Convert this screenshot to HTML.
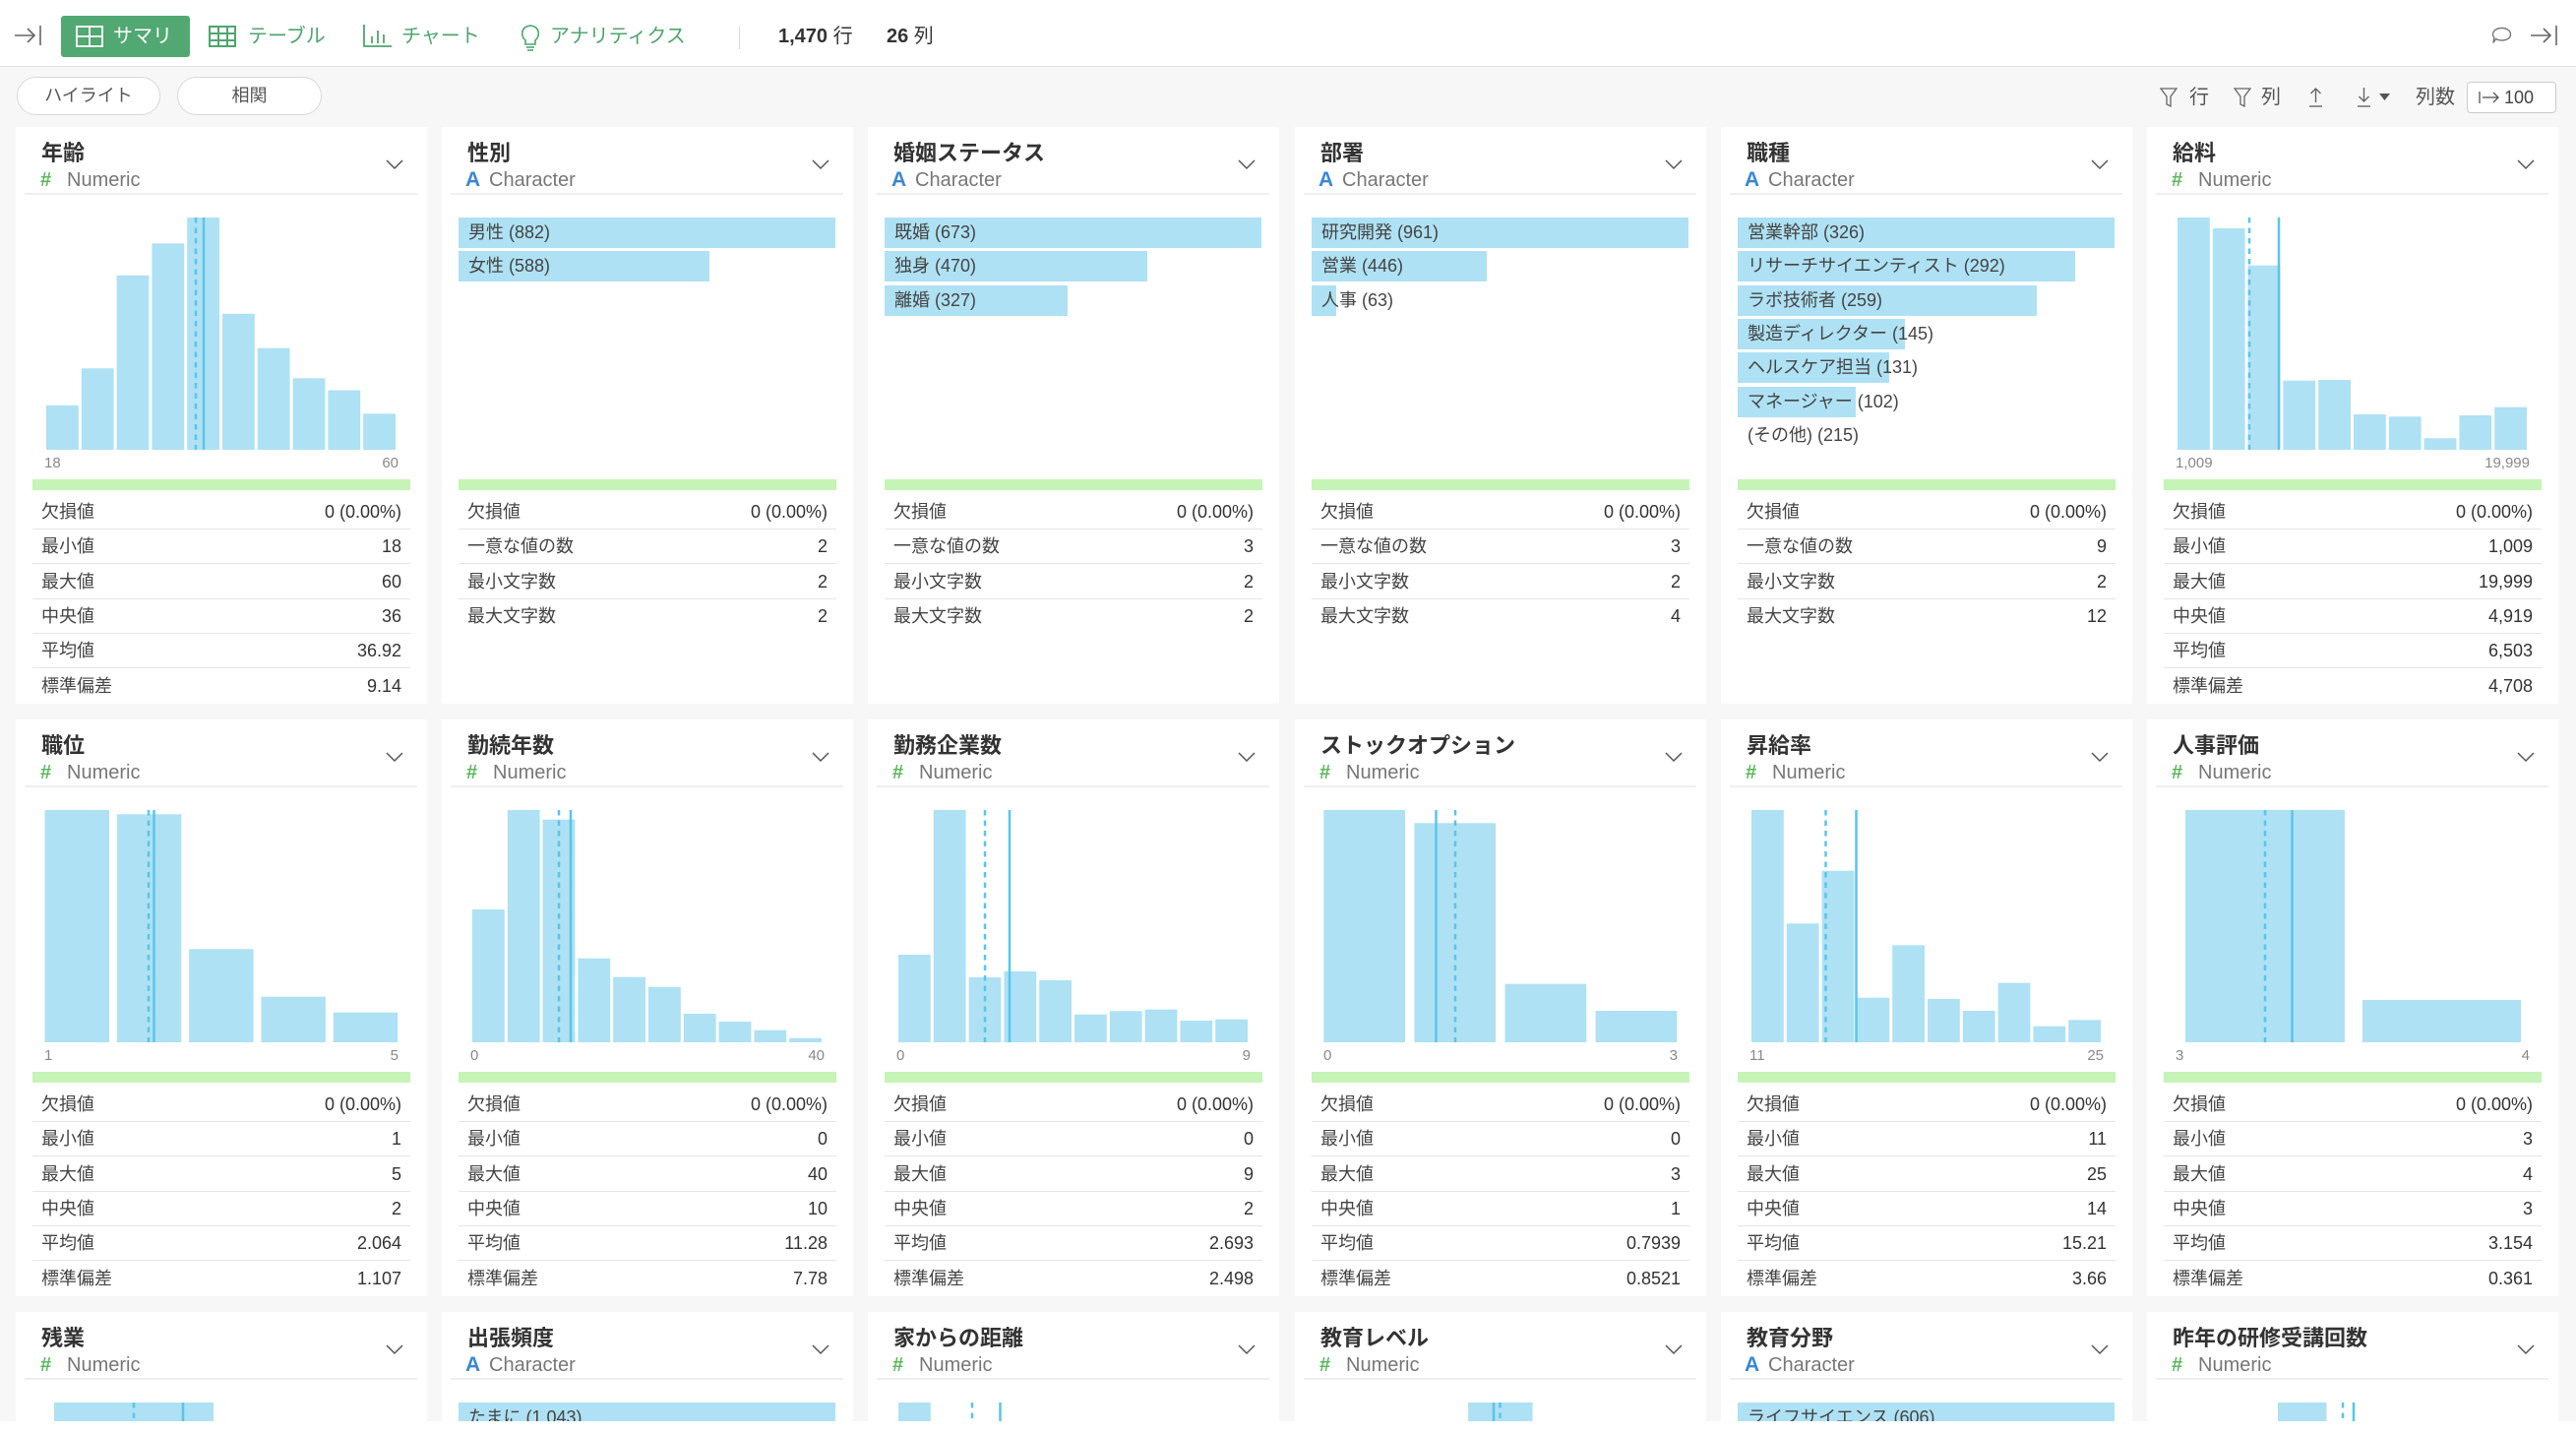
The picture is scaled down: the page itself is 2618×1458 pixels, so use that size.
<!DOCTYPE html>
<html><head><meta charset="utf-8"><style>
*{margin:0;padding:0;box-sizing:border-box}
html,body{width:2618px;height:1458px;overflow:hidden}
body{background:#f7f7f7;font-family:"Liberation Sans","Noto Sans CJK JP",sans-serif;position:relative;color:#333}
.abs{position:absolute}
#top{position:absolute;left:0;top:0;width:2618px;height:68px;background:#fff;border-bottom:1px solid #e2e2e2}
.tab{position:absolute;top:16px;height:42px;line-height:42px;font-size:20px;color:#4fa56d;white-space:nowrap}
.btn{position:absolute;top:78px;height:39px;border:1px solid #d9d9d9;border-radius:20px;background:#fff;text-align:center;line-height:37px;font-size:18px;color:#555}
.tool{position:absolute;top:86px;height:26px;line-height:26px;font-size:20px;color:#555;white-space:nowrap}
.card{position:absolute;width:418px;height:586px;background:#fff;overflow:hidden}
.t{position:absolute;left:26px;top:12px;height:30px;line-height:30px;font-size:22px;font-weight:bold;color:#333;white-space:nowrap}
.hash{position:absolute;left:25px;top:42px;height:24px;line-height:24px;font-size:20px;font-weight:bold;color:#5cb85c}
.ca{position:absolute;left:24px;top:42px;height:24px;line-height:24px;font-size:21px;font-weight:bold;color:#3a87d4}
.ty{position:absolute;top:42px;height:24px;line-height:24px;font-size:20px;color:#777;white-space:nowrap}
.chev{position:absolute;left:376px;top:33px}
.sep{position:absolute;left:9px;top:67px;width:399px;height:2px;background:#efefef}
.h{position:absolute;left:0;top:92px}
.al,.ar{position:absolute;top:333px;height:18px;line-height:18px;font-size:15px;color:#888}
.al{left:29px}.ar{right:29px}
.g{position:absolute;left:17px;top:358px;width:384px;height:11px;background:#c5f4b6}
.r{position:absolute;left:17px;width:384px;height:35px;border-bottom:1px solid #e6e6e6;font-size:18px;line-height:34px;color:#444}
.r.nb{border-bottom:none}
.r span{position:absolute;left:9px;white-space:nowrap}
.r b{position:absolute;right:9px;font-weight:normal;color:#333;white-space:nowrap}
.cb{position:absolute;left:17px;height:31px;background:#aee1f3}
.cl{position:absolute;left:27px;height:31px;line-height:31px;font-size:18px;color:#444;white-space:nowrap}
</style></head><body>

<div id="top"></div>
<!-- top bar -->
<svg class="abs" style="left:14px;top:26px" width="30" height="20"><g stroke="#666" stroke-width="1.6" fill="none"><line x1="1" y1="10" x2="21" y2="10"/><polyline points="14,3 21,10 14,17"/><line x1="27" y1="0" x2="27" y2="20"/></g></svg>
<div class="abs" style="left:62px;top:16px;width:131px;height:42px;background:#52a872;border-radius:3px"></div>
<svg class="abs" style="left:77px;top:26px" width="28" height="22"><g stroke="#fff" stroke-width="1.8" fill="none"><rect x="1" y="1" width="26" height="20"/><line x1="14" y1="1" x2="14" y2="21"/><line x1="1" y1="11" x2="27" y2="11"/></g></svg>
<div class="tab" style="left:115px;color:#fff">サマリ</div>
<svg class="abs" style="left:212px;top:26px" width="28" height="22"><g stroke="#4fa56d" stroke-width="2" fill="none"><rect x="1" y="1" width="26" height="20"/><line x1="10" y1="1" x2="10" y2="21"/><line x1="19" y1="1" x2="19" y2="21"/><line x1="1" y1="8" x2="27" y2="8"/><line x1="1" y1="15" x2="27" y2="15"/></g></svg>
<div class="tab" style="left:252px">テーブル</div>
<svg class="abs" style="left:369px;top:25px" width="29" height="23"><g stroke="#4fa56d" stroke-width="1.8" fill="none"><polyline points="1,0 1,22 29,22"/><line x1="9" y1="12" x2="9" y2="19"/><line x1="15" y1="6" x2="15" y2="19"/><line x1="21" y1="10" x2="21" y2="19"/></g></svg>
<div class="tab" style="left:408px">チャート</div>
<svg class="abs" style="left:528px;top:24px" width="22" height="28"><g stroke="#4fa56d" stroke-width="1.6" fill="none"><path d="M6,17 C1,13 1,3 11,2 C21,3 21,13 16,17 L16,21 L6,21 Z"/><line x1="7" y1="24" x2="15" y2="24"/><line x1="8" y1="27" x2="14" y2="27"/></g></svg>
<div class="tab" style="left:559px">アナリティクス</div>
<div class="abs" style="left:751px;top:27px;width:1px;height:23px;background:#d8d8d8"></div>
<div class="tab" style="left:791px;color:#333"><b>1,470</b> 行</div>
<div class="tab" style="left:901px;color:#333"><b>26</b> 列</div>
<svg class="abs" style="left:2532px;top:27px" width="21" height="18"><path d="M10.5,1.5 C16,1.5 19.5,4.5 19.5,8 C19.5,11.5 16,14 10.5,14 C8,14 6,13.5 4.5,12.5 L2,16.5 L2.8,11 C1.8,10 1.5,9 1.5,8 C1.5,4.5 5,1.5 10.5,1.5 Z" fill="none" stroke="#777" stroke-width="1.4"/></svg>
<svg class="abs" style="left:2571px;top:26px" width="30" height="20"><g stroke="#666" stroke-width="1.6" fill="none"><line x1="1" y1="10" x2="21" y2="10"/><polyline points="14,3 21,10 14,17"/><line x1="27" y1="0" x2="27" y2="20"/></g></svg>

<!-- toolbar -->
<div class="btn" style="left:17px;width:146px">ハイライト</div>
<div class="btn" style="left:180px;width:147px">相関</div>
<svg class="abs" style="left:2195px;top:89px" width="18" height="21"><polygon points="1,1 17,1 11,9 11,19 7,17 7,9" fill="none" stroke="#666" stroke-width="1.3"/></svg>
<div class="tool" style="left:2225px">行</div>
<svg class="abs" style="left:2270px;top:89px" width="18" height="21"><polygon points="1,1 17,1 11,9 11,19 7,17 7,9" fill="none" stroke="#666" stroke-width="1.3"/></svg>
<div class="tool" style="left:2298px">列</div>
<svg class="abs" style="left:2345px;top:88px" width="17" height="22"><g stroke="#666" stroke-width="1.4" fill="none"><line x1="8.5" y1="2" x2="8.5" y2="16"/><polyline points="3.5,7 8.5,2 13.5,7"/><line x1="2" y1="20" x2="15" y2="20"/></g></svg>
<svg class="abs" style="left:2394px;top:88px" width="17" height="22"><g stroke="#666" stroke-width="1.4" fill="none"><line x1="8.5" y1="1" x2="8.5" y2="15"/><polyline points="3.5,10 8.5,15 13.5,10"/><line x1="2" y1="20" x2="15" y2="20"/></g></svg>
<svg class="abs" style="left:2418px;top:95px" width="12" height="8"><polygon points="0,0 11,0 5.5,7" fill="#555"/></svg>
<div class="tool" style="left:2455px">列数</div>
<div class="abs" style="left:2507px;top:83px;width:91px;height:32px;border:1px solid #ccc;border-radius:4px;background:#fff"></div>
<svg class="abs" style="left:2519px;top:92px" width="22" height="14"><g stroke="#555" stroke-width="1.3" fill="none"><line x1="1" y1="1" x2="1" y2="13"/><line x1="4" y1="7" x2="20" y2="7"/><polyline points="15,2 20,7 15,12"/></g></svg>
<div class="tool" style="left:2545px;top:86px;font-size:18px;color:#444">100</div>

<!-- ROW 1 -->
<div class="card" style="left:16px;top:129px">
 <div class="t">年齢</div><div class="hash">#</div><div class="ty" style="left:52px">Numeric</div>
 <svg class="chev" width="18" height="11"><polyline points="1,1 9,9 17,1" fill="none" stroke="#555" stroke-width="1.5"/></svg>
 <div class="sep"></div>
 <svg class="h" width="418" height="236"><g fill="#aee1f3">
  <rect x="31" y="190.8" width="32.8" height="45.2"/><rect x="66.8" y="153.3" width="32.8" height="82.7"/><rect x="102.6" y="58.8" width="32.8" height="177.2"/><rect x="138.4" y="26.3" width="32.8" height="209.7"/><rect x="174.2" y="0" width="32.8" height="236"/><rect x="210" y="97.8" width="32.8" height="138.2"/><rect x="245.8" y="132.7" width="32.8" height="103.3"/><rect x="281.6" y="163.3" width="32.8" height="72.7"/><rect x="317.4" y="175.5" width="32.8" height="60.5"/><rect x="353.2" y="199.3" width="32.8" height="36.7"/></g>
  <line x1="183" y1="0" x2="183" y2="236" stroke="#5bc4ea" stroke-width="2.5" stroke-dasharray="5.5 5"/><line x1="191" y1="0" x2="191" y2="236" stroke="#5bc4ea" stroke-width="2.5"/></svg>
 <div class="al">18</div><div class="ar">60</div><div class="g"></div>
 <div class="r" style="top:374px"><span>欠損値</span><b>0 (0.00%)</b></div>
 <div class="r" style="top:409.3px"><span>最小値</span><b>18</b></div>
 <div class="r" style="top:444.6px"><span>最大値</span><b>60</b></div>
 <div class="r" style="top:479.9px"><span>中央値</span><b>36</b></div>
 <div class="r" style="top:515.2px"><span>平均値</span><b>36.92</b></div>
 <div class="r nb" style="top:550.5px"><span>標準偏差</span><b>9.14</b></div>
</div>

<div class="card" style="left:449px;top:129px">
 <div class="t">性別</div><div class="ca">A</div><div class="ty" style="left:48px">Character</div>
 <svg class="chev" width="18" height="11"><polyline points="1,1 9,9 17,1" fill="none" stroke="#555" stroke-width="1.5"/></svg>
 <div class="sep"></div>
 <div class="cb" style="top:92px;width:383px"></div><div class="cl" style="top:92px">男性 (882)</div>
 <div class="cb" style="top:126.3px;width:255px"></div><div class="cl" style="top:126.3px">女性 (588)</div>
 <div class="g"></div>
 <div class="r" style="top:374px"><span>欠損値</span><b>0 (0.00%)</b></div>
 <div class="r" style="top:409.3px"><span>一意な値の数</span><b>2</b></div>
 <div class="r" style="top:444.6px"><span>最小文字数</span><b>2</b></div>
 <div class="r nb" style="top:479.9px"><span>最大文字数</span><b>2</b></div>
</div>

<div class="card" style="left:882px;top:129px">
 <div class="t">婚姻ステータス</div><div class="ca">A</div><div class="ty" style="left:48px">Character</div>
 <svg class="chev" width="18" height="11"><polyline points="1,1 9,9 17,1" fill="none" stroke="#555" stroke-width="1.5"/></svg>
 <div class="sep"></div>
 <div class="cb" style="top:92px;width:383px"></div><div class="cl" style="top:92px">既婚 (673)</div>
 <div class="cb" style="top:126.3px;width:267px"></div><div class="cl" style="top:126.3px">独身 (470)</div>
 <div class="cb" style="top:160.6px;width:186px"></div><div class="cl" style="top:160.6px">離婚 (327)</div>
 <div class="g"></div>
 <div class="r" style="top:374px"><span>欠損値</span><b>0 (0.00%)</b></div>
 <div class="r" style="top:409.3px"><span>一意な値の数</span><b>3</b></div>
 <div class="r" style="top:444.6px"><span>最小文字数</span><b>2</b></div>
 <div class="r nb" style="top:479.9px"><span>最大文字数</span><b>2</b></div>
</div>

<div class="card" style="left:1316px;top:129px">
 <div class="t">部署</div><div class="ca">A</div><div class="ty" style="left:48px">Character</div>
 <svg class="chev" width="18" height="11"><polyline points="1,1 9,9 17,1" fill="none" stroke="#555" stroke-width="1.5"/></svg>
 <div class="sep"></div>
 <div class="cb" style="top:92px;width:383px"></div><div class="cl" style="top:92px">研究開発 (961)</div>
 <div class="cb" style="top:126.3px;width:178px"></div><div class="cl" style="top:126.3px">営業 (446)</div>
 <div class="cb" style="top:160.6px;width:25px"></div><div class="cl" style="top:160.6px">人事 (63)</div>
 <div class="g"></div>
 <div class="r" style="top:374px"><span>欠損値</span><b>0 (0.00%)</b></div>
 <div class="r" style="top:409.3px"><span>一意な値の数</span><b>3</b></div>
 <div class="r" style="top:444.6px"><span>最小文字数</span><b>2</b></div>
 <div class="r nb" style="top:479.9px"><span>最大文字数</span><b>4</b></div>
</div>

<div class="card" style="left:1749px;top:129px">
 <div class="t">職種</div><div class="ca">A</div><div class="ty" style="left:48px">Character</div>
 <svg class="chev" width="18" height="11"><polyline points="1,1 9,9 17,1" fill="none" stroke="#555" stroke-width="1.5"/></svg>
 <div class="sep"></div>
 <div class="cb" style="top:92px;width:383px"></div><div class="cl" style="top:92px">営業幹部 (326)</div>
 <div class="cb" style="top:126.3px;width:343px"></div><div class="cl" style="top:126.3px">リサーチサイエンティスト (292)</div>
 <div class="cb" style="top:160.6px;width:304px"></div><div class="cl" style="top:160.6px">ラボ技術者 (259)</div>
 <div class="cb" style="top:194.9px;width:170px"></div><div class="cl" style="top:194.9px">製造ディレクター (145)</div>
 <div class="cb" style="top:229.2px;width:154px"></div><div class="cl" style="top:229.2px">ヘルスケア担当 (131)</div>
 <div class="cb" style="top:263.5px;width:120px"></div><div class="cl" style="top:263.5px">マネージャー (102)</div>
 <div class="cl" style="top:297.8px">(その他) (215)</div>
 <div class="g"></div>
 <div class="r" style="top:374px"><span>欠損値</span><b>0 (0.00%)</b></div>
 <div class="r" style="top:409.3px"><span>一意な値の数</span><b>9</b></div>
 <div class="r" style="top:444.6px"><span>最小文字数</span><b>2</b></div>
 <div class="r nb" style="top:479.9px"><span>最大文字数</span><b>12</b></div>
</div>

<div class="card" style="left:2182px;top:129px">
 <div class="t">給料</div><div class="hash">#</div><div class="ty" style="left:52px">Numeric</div>
 <svg class="chev" width="18" height="11"><polyline points="1,1 9,9 17,1" fill="none" stroke="#555" stroke-width="1.5"/></svg>
 <div class="sep"></div>
 <svg class="h" width="418" height="236"><g fill="#aee1f3">
  <rect x="31" y="0" width="32.8" height="236"/><rect x="66.8" y="11" width="32.8" height="225"/><rect x="102.6" y="48.7" width="32.8" height="187.3"/><rect x="138.4" y="165.7" width="32.8" height="70.3"/><rect x="174.2" y="165" width="32.8" height="71"/><rect x="210" y="200" width="32.8" height="36"/><rect x="245.8" y="202.3" width="32.8" height="33.7"/><rect x="281.6" y="224.3" width="32.8" height="11.7"/><rect x="317.4" y="201" width="32.8" height="35"/><rect x="353.2" y="192.7" width="32.8" height="43.3"/></g>
  <line x1="104" y1="0" x2="104" y2="236" stroke="#5bc4ea" stroke-width="2.5" stroke-dasharray="5.5 5"/><line x1="134" y1="0" x2="134" y2="236" stroke="#5bc4ea" stroke-width="2.5"/></svg>
 <div class="al">1,009</div><div class="ar">19,999</div><div class="g"></div>
 <div class="r" style="top:374px"><span>欠損値</span><b>0 (0.00%)</b></div>
 <div class="r" style="top:409.3px"><span>最小値</span><b>1,009</b></div>
 <div class="r" style="top:444.6px"><span>最大値</span><b>19,999</b></div>
 <div class="r" style="top:479.9px"><span>中央値</span><b>4,919</b></div>
 <div class="r" style="top:515.2px"><span>平均値</span><b>6,503</b></div>
 <div class="r nb" style="top:550.5px"><span>標準偏差</span><b>4,708</b></div>
</div>

<!-- ROW 2 -->
<div class="card" style="left:16px;top:731px">
 <div class="t">職位</div><div class="hash">#</div><div class="ty" style="left:52px">Numeric</div>
 <svg class="chev" width="18" height="11"><polyline points="1,1 9,9 17,1" fill="none" stroke="#555" stroke-width="1.5"/></svg>
 <div class="sep"></div>
 <svg class="h" width="418" height="236"><g fill="#aee1f3">
  <rect x="29.5" y="0" width="65.5" height="236"/><rect x="102.8" y="4.3" width="65.5" height="231.7"/><rect x="176.1" y="141.3" width="65.5" height="94.7"/><rect x="249.4" y="189.7" width="65.5" height="46.3"/><rect x="322.7" y="205.7" width="65.5" height="30.3"/></g>
  <line x1="135" y1="0" x2="135" y2="236" stroke="#5bc4ea" stroke-width="2.5" stroke-dasharray="5.5 5"/><line x1="140.5" y1="0" x2="140.5" y2="236" stroke="#5bc4ea" stroke-width="2.5"/></svg>
 <div class="al">1</div><div class="ar">5</div><div class="g"></div>
 <div class="r" style="top:374px"><span>欠損値</span><b>0 (0.00%)</b></div>
 <div class="r" style="top:409.3px"><span>最小値</span><b>1</b></div>
 <div class="r" style="top:444.6px"><span>最大値</span><b>5</b></div>
 <div class="r" style="top:479.9px"><span>中央値</span><b>2</b></div>
 <div class="r" style="top:515.2px"><span>平均値</span><b>2.064</b></div>
 <div class="r nb" style="top:550.5px"><span>標準偏差</span><b>1.107</b></div>
</div>

<div class="card" style="left:449px;top:731px">
 <div class="t">勤続年数</div><div class="hash">#</div><div class="ty" style="left:52px">Numeric</div>
 <svg class="chev" width="18" height="11"><polyline points="1,1 9,9 17,1" fill="none" stroke="#555" stroke-width="1.5"/></svg>
 <div class="sep"></div>
 <svg class="h" width="418" height="236"><g fill="#aee1f3">
  <rect x="31" y="101" width="32.8" height="135"/><rect x="66.8" y="0" width="32.8" height="236"/><rect x="102.6" y="9.7" width="32.8" height="226.3"/><rect x="138.4" y="150.7" width="32.8" height="85.3"/><rect x="174.2" y="169.7" width="32.8" height="66.3"/><rect x="210" y="179.7" width="32.8" height="56.3"/><rect x="245.8" y="207" width="32.8" height="29"/><rect x="281.6" y="215" width="32.8" height="21"/><rect x="317.4" y="223.7" width="32.8" height="12.3"/><rect x="353.2" y="231.7" width="32.8" height="4.3"/></g>
  <line x1="119" y1="0" x2="119" y2="236" stroke="#5bc4ea" stroke-width="2.5" stroke-dasharray="5.5 5"/><line x1="131" y1="0" x2="131" y2="236" stroke="#5bc4ea" stroke-width="2.5"/></svg>
 <div class="al">0</div><div class="ar">40</div><div class="g"></div>
 <div class="r" style="top:374px"><span>欠損値</span><b>0 (0.00%)</b></div>
 <div class="r" style="top:409.3px"><span>最小値</span><b>0</b></div>
 <div class="r" style="top:444.6px"><span>最大値</span><b>40</b></div>
 <div class="r" style="top:479.9px"><span>中央値</span><b>10</b></div>
 <div class="r" style="top:515.2px"><span>平均値</span><b>11.28</b></div>
 <div class="r nb" style="top:550.5px"><span>標準偏差</span><b>7.78</b></div>
</div>

<div class="card" style="left:882px;top:731px">
 <div class="t">勤務企業数</div><div class="hash">#</div><div class="ty" style="left:52px">Numeric</div>
 <svg class="chev" width="18" height="11"><polyline points="1,1 9,9 17,1" fill="none" stroke="#555" stroke-width="1.5"/></svg>
 <div class="sep"></div>
 <svg class="h" width="418" height="236"><g fill="#aee1f3">
  <rect x="31" y="147" width="32.8" height="89"/><rect x="66.8" y="0" width="32.8" height="236"/><rect x="102.6" y="170" width="32.8" height="66"/><rect x="138.4" y="164" width="32.8" height="72"/><rect x="174.2" y="173" width="32.8" height="63"/><rect x="210" y="207.7" width="32.8" height="28.3"/><rect x="245.8" y="204.3" width="32.8" height="31.7"/><rect x="281.6" y="202.7" width="32.8" height="33.3"/><rect x="317.4" y="214" width="32.8" height="22"/><rect x="353.2" y="212.7" width="32.8" height="23.3"/></g>
  <line x1="119" y1="0" x2="119" y2="236" stroke="#5bc4ea" stroke-width="2.5" stroke-dasharray="5.5 5"/><line x1="144" y1="0" x2="144" y2="236" stroke="#5bc4ea" stroke-width="2.5"/></svg>
 <div class="al">0</div><div class="ar">9</div><div class="g"></div>
 <div class="r" style="top:374px"><span>欠損値</span><b>0 (0.00%)</b></div>
 <div class="r" style="top:409.3px"><span>最小値</span><b>0</b></div>
 <div class="r" style="top:444.6px"><span>最大値</span><b>9</b></div>
 <div class="r" style="top:479.9px"><span>中央値</span><b>2</b></div>
 <div class="r" style="top:515.2px"><span>平均値</span><b>2.693</b></div>
 <div class="r nb" style="top:550.5px"><span>標準偏差</span><b>2.498</b></div>
</div>

<div class="card" style="left:1316px;top:731px">
 <div class="t">ストックオプション</div><div class="hash">#</div><div class="ty" style="left:52px">Numeric</div>
 <svg class="chev" width="18" height="11"><polyline points="1,1 9,9 17,1" fill="none" stroke="#555" stroke-width="1.5"/></svg>
 <div class="sep"></div>
 <svg class="h" width="418" height="236"><g fill="#aee1f3">
  <rect x="29.3" y="0" width="82.7" height="236"/><rect x="121.4" y="13.3" width="82.7" height="222.7"/><rect x="213.5" y="176.7" width="82.7" height="59.3"/><rect x="305.6" y="204" width="82.7" height="32"/></g>
  <line x1="163" y1="0" x2="163" y2="236" stroke="#5bc4ea" stroke-width="2.5" stroke-dasharray="5.5 5"/><line x1="143.5" y1="0" x2="143.5" y2="236" stroke="#5bc4ea" stroke-width="2.5"/></svg>
 <div class="al">0</div><div class="ar">3</div><div class="g"></div>
 <div class="r" style="top:374px"><span>欠損値</span><b>0 (0.00%)</b></div>
 <div class="r" style="top:409.3px"><span>最小値</span><b>0</b></div>
 <div class="r" style="top:444.6px"><span>最大値</span><b>3</b></div>
 <div class="r" style="top:479.9px"><span>中央値</span><b>1</b></div>
 <div class="r" style="top:515.2px"><span>平均値</span><b>0.7939</b></div>
 <div class="r nb" style="top:550.5px"><span>標準偏差</span><b>0.8521</b></div>
</div>

<div class="card" style="left:1749px;top:731px">
 <div class="t">昇給率</div><div class="hash">#</div><div class="ty" style="left:52px">Numeric</div>
 <svg class="chev" width="18" height="11"><polyline points="1,1 9,9 17,1" fill="none" stroke="#555" stroke-width="1.5"/></svg>
 <div class="sep"></div>
 <svg class="h" width="418" height="236"><g fill="#aee1f3">
  <rect x="31" y="0" width="32.8" height="236"/><rect x="66.8" y="115.3" width="32.8" height="120.7"/><rect x="102.6" y="61.7" width="32.8" height="174.3"/><rect x="138.4" y="190.7" width="32.8" height="45.3"/><rect x="174.2" y="137.3" width="32.8" height="98.7"/><rect x="210" y="192" width="32.8" height="44"/><rect x="245.8" y="204" width="32.8" height="32"/><rect x="281.6" y="175.7" width="32.8" height="60.3"/><rect x="317.4" y="219.7" width="32.8" height="16.3"/><rect x="353.2" y="213.3" width="32.8" height="22.7"/></g>
  <line x1="106.5" y1="0" x2="106.5" y2="236" stroke="#5bc4ea" stroke-width="2.5" stroke-dasharray="5.5 5"/><line x1="137.5" y1="0" x2="137.5" y2="236" stroke="#5bc4ea" stroke-width="2.5"/></svg>
 <div class="al">11</div><div class="ar">25</div><div class="g"></div>
 <div class="r" style="top:374px"><span>欠損値</span><b>0 (0.00%)</b></div>
 <div class="r" style="top:409.3px"><span>最小値</span><b>11</b></div>
 <div class="r" style="top:444.6px"><span>最大値</span><b>25</b></div>
 <div class="r" style="top:479.9px"><span>中央値</span><b>14</b></div>
 <div class="r" style="top:515.2px"><span>平均値</span><b>15.21</b></div>
 <div class="r nb" style="top:550.5px"><span>標準偏差</span><b>3.66</b></div>
</div>

<div class="card" style="left:2182px;top:731px">
 <div class="t">人事評価</div><div class="hash">#</div><div class="ty" style="left:52px">Numeric</div>
 <svg class="chev" width="18" height="11"><polyline points="1,1 9,9 17,1" fill="none" stroke="#555" stroke-width="1.5"/></svg>
 <div class="sep"></div>
 <svg class="h" width="418" height="236"><g fill="#aee1f3">
  <rect x="39" y="0" width="162" height="236"/><rect x="219" y="193" width="161" height="43"/></g>
  <line x1="120" y1="0" x2="120" y2="236" stroke="#5bc4ea" stroke-width="2.5" stroke-dasharray="5.5 5"/><line x1="147.5" y1="0" x2="147.5" y2="236" stroke="#5bc4ea" stroke-width="2.5"/></svg>
 <div class="al">3</div><div class="ar">4</div><div class="g"></div>
 <div class="r" style="top:374px"><span>欠損値</span><b>0 (0.00%)</b></div>
 <div class="r" style="top:409.3px"><span>最小値</span><b>3</b></div>
 <div class="r" style="top:444.6px"><span>最大値</span><b>4</b></div>
 <div class="r" style="top:479.9px"><span>中央値</span><b>3</b></div>
 <div class="r" style="top:515.2px"><span>平均値</span><b>3.154</b></div>
 <div class="r nb" style="top:550.5px"><span>標準偏差</span><b>0.361</b></div>
</div>

<!-- ROW 3 (cut) -->
<div class="card" style="left:16px;top:1333px;height:111px">
 <div class="t">残業</div><div class="hash">#</div><div class="ty" style="left:52px">Numeric</div>
 <svg class="chev" width="18" height="11"><polyline points="1,1 9,9 17,1" fill="none" stroke="#555" stroke-width="1.5"/></svg>
 <div class="sep"></div>
 <svg class="h" width="418" height="19"><g fill="#aee1f3"><rect x="39" y="0" width="162" height="19"/></g>
  <line x1="120" y1="0" x2="120" y2="19" stroke="#5bc4ea" stroke-width="2.5" stroke-dasharray="5.5 5"/><line x1="170" y1="0" x2="170" y2="19" stroke="#5bc4ea" stroke-width="2.5"/></svg>
</div>
<div class="card" style="left:449px;top:1333px;height:111px">
 <div class="t">出張頻度</div><div class="ca">A</div><div class="ty" style="left:48px">Character</div>
 <svg class="chev" width="18" height="11"><polyline points="1,1 9,9 17,1" fill="none" stroke="#555" stroke-width="1.5"/></svg>
 <div class="sep"></div>
 <div class="cb" style="top:92px;height:19px;width:383px"></div><div class="cl" style="top:92px;height:19px;line-height:31px;overflow:hidden">たまに (1,043)</div>
</div>
<div class="card" style="left:882px;top:1333px;height:111px">
 <div class="t">家からの距離</div><div class="hash">#</div><div class="ty" style="left:52px">Numeric</div>
 <svg class="chev" width="18" height="11"><polyline points="1,1 9,9 17,1" fill="none" stroke="#555" stroke-width="1.5"/></svg>
 <div class="sep"></div>
 <svg class="h" width="418" height="19"><g fill="#aee1f3"><rect x="31" y="0" width="32.8" height="19"/></g>
  <line x1="106" y1="0" x2="106" y2="19" stroke="#5bc4ea" stroke-width="2.5" stroke-dasharray="5.5 5"/><line x1="134.5" y1="0" x2="134.5" y2="19" stroke="#5bc4ea" stroke-width="2.5"/></svg>
</div>
<div class="card" style="left:1316px;top:1333px;height:111px">
 <div class="t">教育レベル</div><div class="hash">#</div><div class="ty" style="left:52px">Numeric</div>
 <svg class="chev" width="18" height="11"><polyline points="1,1 9,9 17,1" fill="none" stroke="#555" stroke-width="1.5"/></svg>
 <div class="sep"></div>
 <svg class="h" width="418" height="19"><g fill="#aee1f3"><rect x="176.1" y="0" width="65.5" height="19"/></g>
  <line x1="202" y1="0" x2="202" y2="19" stroke="#5bc4ea" stroke-width="2.5"/><line x1="208.5" y1="0" x2="208.5" y2="19" stroke="#5bc4ea" stroke-width="2.5" stroke-dasharray="5.5 5"/></svg>
</div>
<div class="card" style="left:1749px;top:1333px;height:111px">
 <div class="t">教育分野</div><div class="ca">A</div><div class="ty" style="left:48px">Character</div>
 <svg class="chev" width="18" height="11"><polyline points="1,1 9,9 17,1" fill="none" stroke="#555" stroke-width="1.5"/></svg>
 <div class="sep"></div>
 <div class="cb" style="top:92px;height:19px;width:383px"></div><div class="cl" style="top:92px;height:19px;line-height:31px;overflow:hidden">ライフサイエンス (606)</div>
</div>
<div class="card" style="left:2182px;top:1333px;height:111px">
 <div class="t">昨年の研修受講回数</div><div class="hash">#</div><div class="ty" style="left:52px">Numeric</div>
 <svg class="chev" width="18" height="11"><polyline points="1,1 9,9 17,1" fill="none" stroke="#555" stroke-width="1.5"/></svg>
 <div class="sep"></div>
 <svg class="h" width="418" height="19"><g fill="#aee1f3"><rect x="133" y="0" width="49.5" height="19"/></g>
  <line x1="199" y1="0" x2="199" y2="19" stroke="#5bc4ea" stroke-width="2.5" stroke-dasharray="5.5 5"/><line x1="210" y1="0" x2="210" y2="19" stroke="#5bc4ea" stroke-width="2.5"/></svg>
</div>

<div class="abs" style="left:0;top:1444px;width:2618px;height:14px;background:#fff"></div>
</body></html>
